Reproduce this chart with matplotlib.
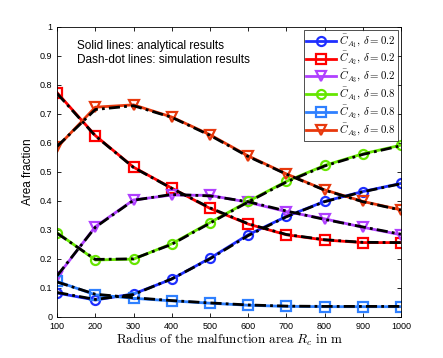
import matplotlib
matplotlib.use("Agg")
import matplotlib.pyplot as plt

radius = [100, 200, 300, 400, 500, 600, 700, 800, 900, 1000]

# analytical results
c_a1_02 = [0.082, 0.058, 0.079, 0.130, 0.202, 0.283, 0.346, 0.398, 0.432, 0.460]
c_a2_02 = [0.773, 0.625, 0.516, 0.444, 0.374, 0.320, 0.283, 0.265, 0.256, 0.256]
c_a3_02 = [0.139, 0.311, 0.403, 0.420, 0.419, 0.395, 0.363, 0.338, 0.309, 0.283]
c_a1_08 = [0.290, 0.196, 0.199, 0.252, 0.325, 0.398, 0.467, 0.522, 0.562, 0.592]
c_a2_08 = [0.122, 0.076, 0.064, 0.055, 0.047, 0.040, 0.036, 0.035, 0.035, 0.035]
c_a3_08 = [0.585, 0.723, 0.731, 0.689, 0.628, 0.555, 0.493, 0.438, 0.398, 0.369]

# simulation results
s_a1_02 = [0.084, 0.060, 0.077, 0.131, 0.200, 0.280, 0.345, 0.397, 0.431, 0.459]
s_a2_02 = [0.770, 0.624, 0.515, 0.443, 0.376, 0.321, 0.284, 0.266, 0.257, 0.256]
s_a3_02 = [0.142, 0.309, 0.402, 0.422, 0.417, 0.397, 0.365, 0.336, 0.310, 0.285]
s_a1_08 = [0.288, 0.198, 0.200, 0.250, 0.323, 0.396, 0.465, 0.520, 0.560, 0.590]
s_a2_08 = [0.120, 0.078, 0.066, 0.056, 0.048, 0.041, 0.037, 0.036, 0.036, 0.036]
s_a3_08 = [0.588, 0.715, 0.728, 0.688, 0.626, 0.553, 0.492, 0.437, 0.397, 0.368]

labels = [r"$\bar{C}_{A_1},\,\delta=0.2$", r"$\bar{C}_{A_2},\,\delta=0.2$",
          r"$\bar{C}_{A_3},\,\delta=0.2$", r"$\bar{C}_{A_1},\,\delta=0.8$",
          r"$\bar{C}_{A_2},\,\delta=0.8$", r"$\bar{C}_{A_3},\,\delta=0.8$"]
colors = ["#1f2fff", "#ff0000", "#b040ff", "#66e600", "#2f80ff", "#e8380c"]
markers = ["o", "s", "v", "o", "s", "v"]

analytical = [c_a1_02, c_a2_02, c_a3_02, c_a1_08, c_a2_08, c_a3_08]
simulation = [s_a1_02, s_a2_02, s_a3_02, s_a1_08, s_a2_08, s_a3_08]

plt.rcParams["mathtext.fontset"] = "cm"
plt.rcParams["font.family"] = ["Liberation Sans", "DejaVu Sans"]

fig = plt.figure(figsize=(4.43, 3.58), dpi=100)
ax = fig.add_axes([0.129, 0.115, 0.776, 0.81])

for y, c, m, lab in zip(analytical, colors, markers, labels):
    ax.plot(radius, y, color=c, lw=2.0, marker=m, markersize=6.5,
            markerfacecolor="none", markeredgecolor=c, markeredgewidth=1.6,
            label=lab, zorder=2)
for y in simulation:
    ax.plot(radius, y, color="black", lw=2.0, ls=(0, (4, 1.5, 1, 1.5)), zorder=3)

ax.set_xlim(100, 1000)
ax.set_ylim(0, 1)
ax.set_xticks(radius)
ax.set_yticks([i / 10 for i in range(11)])
ax.set_yticklabels(["0", "0.1", "0.2", "0.3", "0.4", "0.5", "0.6", "0.7",
                    "0.8", "0.9", "1"])
ax.tick_params(direction="in", top=True, right=True, labelsize=6.5,
               length=3, width=0.6)
for sp in ax.spines.values():
    sp.set_linewidth(0.6)

ax.set_xlabel(r"$\mathrm{Radius\ of\ the\ malfunction\ area}\ R_c\ \mathrm{in\ m}$",
              fontsize=9.5, labelpad=1)
ax.set_ylabel("Area fraction", fontsize=8.5, labelpad=4)

ax.text(0.058, 0.955, "Solid lines: analytical results\nDash-dot lines: simulation results",
        transform=ax.transAxes, fontsize=8.5, va="top", linespacing=1.2)

leg = ax.legend(loc="upper right", fontsize=7.8, frameon=True, fancybox=False,
                edgecolor="black", borderpad=0.2, labelspacing=0.0,
                handlelength=2.8, handletextpad=0.3, borderaxespad=0.25)
leg.get_frame().set_linewidth(0.6)

fig.savefig("out.png", dpi=100)
